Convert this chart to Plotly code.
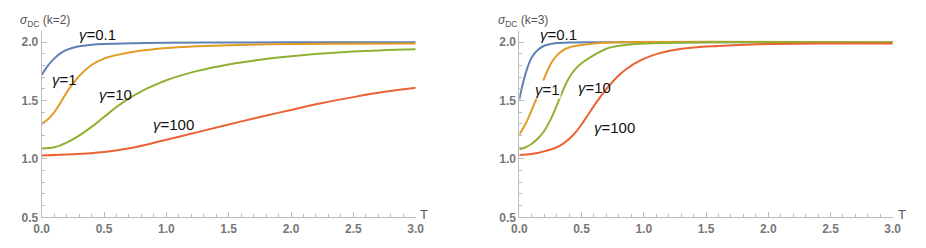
import plotly.graph_objects as go

# ---- data ----
# k = 2 panel
k2_g01_T = [0, 0.05, 0.1, 0.15, 0.2, 0.3, 0.4, 0.5, 0.75, 1.0, 1.5, 2.0, 3.0]
k2_g01 = [1.72, 1.80, 1.86, 1.905, 1.935, 1.965, 1.978, 1.985, 1.992, 1.996, 1.998, 2.0, 2.0]
k2_g1_T = [0, 0.05, 0.1, 0.15, 0.2, 0.25, 0.3, 0.4, 0.5, 0.6, 0.75, 1.0, 1.25, 1.5, 2.0, 2.5, 3.0]
k2_g1 = [1.30, 1.34, 1.40, 1.48, 1.57, 1.645, 1.71, 1.805, 1.86, 1.89, 1.92, 1.95, 1.965, 1.975, 1.985, 1.988, 1.99]
k2_g10_T = [0, 0.1, 0.2, 0.3, 0.4, 0.5, 0.6, 0.7, 0.8, 0.9, 1.0, 1.25, 1.5, 1.75, 2.0, 2.5, 3.0]
k2_g10 = [1.09, 1.10, 1.14, 1.20, 1.275, 1.36, 1.445, 1.52, 1.58, 1.63, 1.675, 1.755, 1.81, 1.85, 1.88, 1.92, 1.94]
k2_g100_T = [0, 0.25, 0.5, 0.75, 1.0, 1.25, 1.5, 1.75, 2.0, 2.25, 2.5, 2.75, 3.0]
k2_g100 = [1.03, 1.04, 1.06, 1.10, 1.165, 1.23, 1.295, 1.36, 1.42, 1.48, 1.53, 1.575, 1.61]

# k = 3 panel
k3_g01_T = [0, 0.025, 0.05, 0.075, 0.1, 0.15, 0.2, 0.25, 0.3, 0.4, 0.6, 3.0]
k3_g01 = [1.51, 1.63, 1.73, 1.81, 1.87, 1.935, 1.97, 1.985, 1.993, 1.998, 2.0, 2.0]
k3_g1_T = [0, 0.05, 0.1, 0.15, 0.2, 0.25, 0.3, 0.35, 0.4, 0.5, 0.6, 0.8, 3.0]
k3_g1 = [1.21, 1.30, 1.42, 1.55, 1.69, 1.81, 1.885, 1.93, 1.955, 1.977, 1.99, 2.0, 2.0]
k3_g10_T = [0, 0.05, 0.1, 0.15, 0.2, 0.25, 0.3, 0.35, 0.4, 0.45, 0.5, 0.6, 0.7, 0.8, 1.0, 1.5, 3.0]
k3_g10 = [1.083, 1.10, 1.13, 1.175, 1.24, 1.335, 1.455, 1.585, 1.695, 1.77, 1.82, 1.89, 1.945, 1.97, 1.99, 2.0, 2.0]
k3_g100_T = [0, 0.1, 0.2, 0.3, 0.35, 0.4, 0.45, 0.5, 0.55, 0.6, 0.65, 0.7, 0.75, 0.8, 0.85, 0.9, 0.95, 1.0,
             1.1, 1.2, 1.4, 1.6, 2.0, 2.5, 3.0]
k3_g100 = [1.034, 1.042, 1.065, 1.10, 1.13, 1.17, 1.225, 1.295, 1.375, 1.455, 1.53, 1.60, 1.662, 1.717, 1.762,
           1.80, 1.832, 1.858, 1.898, 1.925, 1.955, 1.968, 1.985, 1.99, 1.99]

gamma_labels = ["γ=0.1", "γ=1", "γ=10", "γ=100"]
panel_titles = ["(k=2)", "(k=3)"]
x_ticks = [0.0, 0.5, 1.0, 1.5, 2.0, 2.5, 3.0]
y_ticks = [0.5, 1.0, 1.5, 2.0]

colors = ["#5E81B5", "#E19C24", "#8FB032", "#EB6235"]

fig = go.Figure()
W, H = 926, 248

left_series = [(k2_g01_T, k2_g01), (k2_g1_T, k2_g1), (k2_g10_T, k2_g10), (k2_g100_T, k2_g100)]
right_series = [(k3_g01_T, k3_g01), (k3_g1_T, k3_g1), (k3_g10_T, k3_g10), (k3_g100_T, k3_g100)]

for (t, s), c in zip(left_series, colors):
    fig.add_trace(go.Scatter(x=t, y=s, mode="lines", line=dict(color=c, width=2, shape="spline", smoothing=1.0),
                             xaxis="x", yaxis="y", showlegend=False, hoverinfo="skip"))
for (t, s), c in zip(right_series, colors):
    fig.add_trace(go.Scatter(x=t, y=s, mode="lines", line=dict(color=c, width=2, shape="spline", smoothing=1.0),
                             xaxis="x2", yaxis="y2", showlegend=False, hoverinfo="skip"))

axcol = "#BBBBBB"
tickfont = dict(family="Liberation Sans, Arial, sans-serif", size=12, color="#777777", weight="bold")

def xax(dom, anchor):
    return dict(domain=dom, range=[0, 3.0], anchor=anchor, showgrid=False, zeroline=False,
                showline=True, linecolor=axcol, linewidth=1, automargin=False,
                tickvals=x_ticks, ticktext=[f"{v:.1f}" for v in x_ticks],
                ticks="inside", ticklen=5, tickcolor=axcol,
                minor=dict(dtick=0.1, ticks="inside", ticklen=3, tickcolor=axcol),
                tickfont=tickfont, fixedrange=True)

def yax(dom, anchor):
    return dict(domain=dom, range=[0.5, 2.1], anchor=anchor, showgrid=False, zeroline=False,
                showline=True, linecolor=axcol, linewidth=1, automargin=False,
                tickvals=y_ticks, ticktext=[f"{v:.1f}" for v in y_ticks],
                ticks="inside", ticklen=5, tickcolor=axcol,
                minor=dict(dtick=0.1, ticks="inside", ticklen=3, tickcolor=axcol),
                tickfont=tickfont, fixedrange=True)

ydom = [30.7 / H, (248 - 30.6) / H]
xd1 = [41.7 / W, 415.7 / W]
xd2 = [519.3 / W, 892.7 / W]

fig.update_layout(
    width=W, height=H,
    margin=dict(l=0, r=0, t=0, b=0, autoexpand=False),
    plot_bgcolor="white", paper_bgcolor="white",
    xaxis=xax(xd1, "y"), yaxis=yax(ydom, "x"),
    xaxis2=xax(xd2, "y2"), yaxis2=yax(ydom, "x2"),
)

ann = []
labfont = dict(family="Liberation Sans, Arial, sans-serif", size=15, color="#111111")
left_pos = [(97, 34), (64, 79), (116, 94), (173, 124)]
right_pos = [(558, 34), (547, 89), (594, 87), (614, 127)]

def glab(lab):
    return "<i>γ</i>" + lab[1:]

for lab, (px, py) in zip(gamma_labels, left_pos):
    ann.append(dict(text=glab(lab), x=px / W, y=1 - py / H, xref="paper", yref="paper", showarrow=False,
                    font=labfont, xanchor="center", yanchor="middle"))
for i, (lab, (px, py)) in enumerate(zip(gamma_labels, right_pos)):
    a = dict(text=glab(lab), x=px / W, y=1 - py / H, xref="paper", yref="paper", showarrow=False,
             font=labfont, xanchor="center", yanchor="middle")
    if i == 1:
        a["bgcolor"] = "white"
        a["borderpad"] = 0
    ann.append(a)

titlefont = dict(family="Liberation Sans, Arial, sans-serif", size=12, color="#555555")
for title, px in zip(panel_titles, [18, 496]):
    ann.append(dict(text="<i>σ</i><sub>DC</sub> " + title, x=px / W, y=1 - 21 / H, xref="paper", yref="paper",
                    showarrow=False, font=titlefont, xanchor="left", yanchor="middle"))
for px in [424, 902]:
    ann.append(dict(text="T", x=px / W, y=1 - 214 / H, xref="paper", yref="paper", showarrow=False,
                    font=dict(family="Liberation Sans, Arial, sans-serif", size=13, color="#555555"),
                    xanchor="center", yanchor="middle"))
fig.update_layout(annotations=ann)

fig.write_html("out.html", config={"displayModeBar": False, "staticPlot": True},
               post_script="document.body.style.margin='0';document.body.style.overflow='hidden';")
